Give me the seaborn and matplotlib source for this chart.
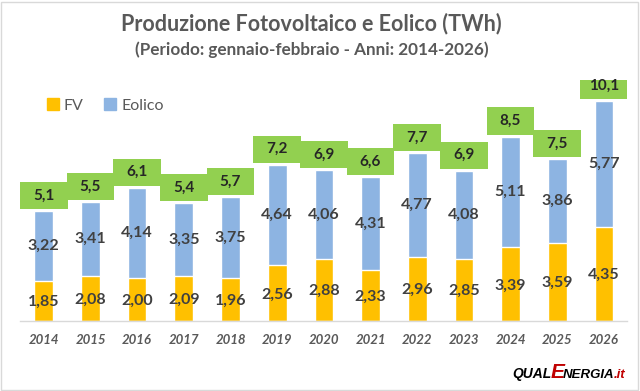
import matplotlib
import matplotlib.pyplot as plt
import pandas as pd
import seaborn as sns
from matplotlib.patches import Patch

matplotlib.use('Agg')

anni = ['2014', '2015', '2016', '2017', '2018', '2019', '2020',
        '2021', '2022', '2023', '2024', '2025', '2026']
fv = [1.85, 2.08, 2.00, 2.09, 1.96, 2.56, 2.88, 2.33, 2.96, 2.85, 3.39, 3.59, 4.35]
eolico = [3.22, 3.41, 4.14, 3.35, 3.75, 4.64, 4.06, 4.31, 4.77, 4.08, 5.11, 3.86, 5.77]
totale = ['5,1', '5,5', '6,1', '5,4', '5,7', '7,2', '6,9',
          '6,6', '7,7', '6,9', '8,5', '7,5', '10,1']

GIALLO = '#FFC000'
BLU = '#8DB4E2'
VERDE = '#92D050'
TESTO = '#404040'
GRIGIO = '#595959'


def main():
    df = pd.DataFrame({'anno': anni, 'fv': fv, 'eolico': eolico})
    df['somma'] = df['fv'] + df['eolico']

    sns.set_theme(style="white")
    plt.rcParams['font.family'] = ['Lato', 'DejaVu Sans']

    fig = plt.figure(figsize=(6.4, 3.91), dpi=100)
    ax = fig.add_axes([0.032, 0.179, 0.948, 0.616])

    sns.barplot(data=df, x='anno', y='somma', color=BLU, saturation=1,
                width=0.4, ax=ax)
    sns.barplot(data=df, x='anno', y='fv', color=GIALLO, saturation=1,
                width=0.4, ax=ax)

    # riquadri verdi con il totale
    ax.bar(range(len(anni)), [1.25] * len(anni), bottom=df['somma'] + 0.09,
           width=1.02, color=VERDE, linewidth=0, zorder=3)

    for i, row in df.iterrows():
        ax.text(i, row['fv'] / 2 - 0.05, f"{row['fv']:.2f}".replace('.', ','),
                ha='center', va='center', fontsize=11.5, fontweight='bold',
                color=TESTO, zorder=4)
        ax.text(i, row['fv'] + row['eolico'] / 2,
                f"{row['eolico']:.2f}".replace('.', ','),
                ha='center', va='center', fontsize=11.5, fontweight='bold',
                color=TESTO, zorder=4)
        ax.text(i, row['somma'] + 0.09 + 0.625, totale[i],
                ha='center', va='center', fontsize=11, fontweight='bold',
                color='#262626', zorder=4)

    ax.set_xlim(-0.5, len(anni) - 0.5)
    ax.set_ylim(0, 11.1)
    ax.set_xlabel('')
    ax.set_ylabel('')
    ax.set_yticks([])
    ax.tick_params(axis='x', length=0, pad=9)
    for lab in ax.get_xticklabels():
        lab.set_fontstyle('italic')
        lab.set_fontweight('bold')
        lab.set_fontsize(9.5)
        lab.set_color(GRIGIO)
    for s in ['top', 'left', 'right']:
        ax.spines[s].set_visible(False)
    ax.spines['bottom'].set_color('#D9D9D9')
    ax.spines['bottom'].set_linewidth(1)

    handles = [Patch(color=GIALLO, label='FV'), Patch(color=BLU, label='Eolico')]
    leg = fig.legend(handles=handles, loc='upper left', ncol=2,
                     bbox_to_anchor=(0.051, 0.785), frameon=False,
                     fontsize=11.5, handlelength=0.75, handleheight=0.75,
                     handletextpad=0.3, columnspacing=1.3)
    for t in leg.get_texts():
        t.set_color(GRIGIO)

    fig.text(0.487, 0.94, 'Produzione Fotovoltaico e Eolico (TWh)',
             ha='center', va='center', fontsize=15.5, fontweight='bold',
             color=GRIGIO)
    fig.text(0.487, 0.874, '(Periodo: gennaio-febbraio - Anni: 2014-2026)',
             ha='center', va='center', fontsize=12.3, fontweight='bold',
             color=GRIGIO)

    # logo: pezzi di testo messi in fila
    renderer = fig.canvas.get_renderer()
    x = 512
    pezzi = [('QUAL', 10, 'black'), ('E', 15, '#C00000'),
             ('NERGIA', 9.5, 'black'), ('.it', 9.5, '#C00000')]
    for testo, size, col in pezzi:
        t = fig.text(x / 640, 13 / 391, testo, ha='left', va='baseline',
                     fontsize=size, fontweight='bold', fontstyle='italic',
                     color=col, family='Liberation Sans')
        x = t.get_window_extent(renderer).x1 - 1

    fig.patches.append(plt.Rectangle((0.002, 0.003), 0.995, 0.993,
                                     transform=fig.transFigure, fill=False,
                                     edgecolor='#D9D9D9', linewidth=1))

    fig.savefig('out.png', dpi=100)
    plt.close(fig)


if __name__ == "__main__":
    main()
